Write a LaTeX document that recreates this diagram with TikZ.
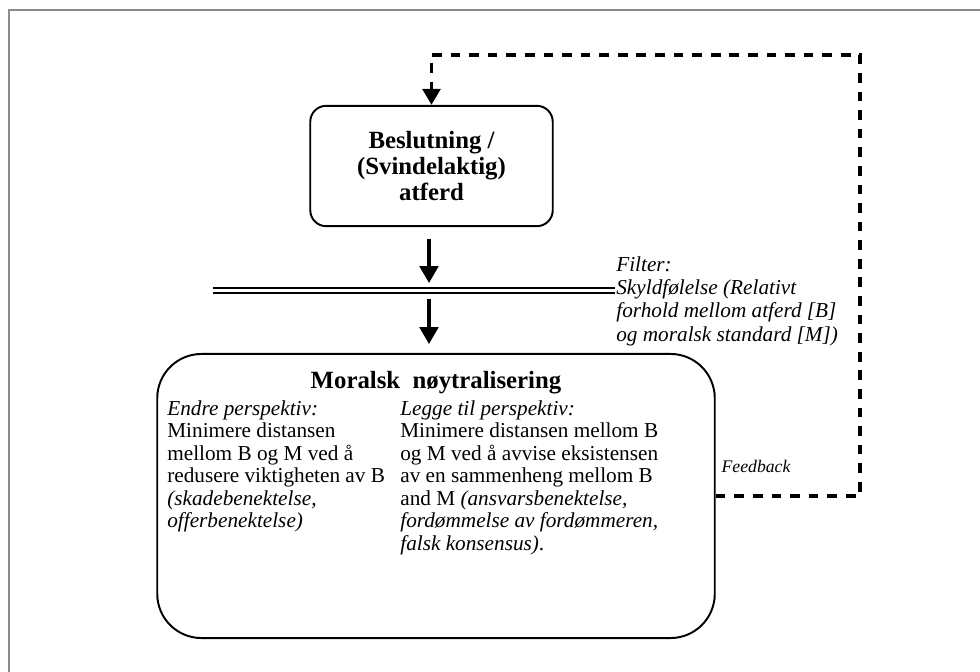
\documentclass[tikz,border=0pt]{standalone}
\usepackage{fontspec}
\setmainfont{Liberation Serif}
\usetikzlibrary{arrows.meta, positioning}

\tikzset{
  boks/.style={draw, line width=1.1pt, align=center},
  pil/.style={line width=1.8pt, -{Triangle[width=10.5pt, length=9.5pt]}},
  tilbake/.style={line width=2pt, dash pattern=on 5.5pt off 5pt, -{Triangle[width=10pt, length=9pt]}},
  tekst/.style={align=left, inner sep=0pt, font=\fontsize{12}{12.75}\selectfont},
}

\begin{document}
\begin{tikzpicture}[x=0.565pt, y=-0.565pt]
  % Ramme rundt figuren
  \useasboundingbox (0,0) rectangle (980,672);
  \draw[gray!90, line width=1.2pt] (980,10) -- (9,10) -- (9,672);

  % Beslutning / atferd
  \node[boks, rounded corners=9pt, minimum width=137pt, minimum height=68pt,
        font=\fontsize{14}{14.5}\selectfont\bfseries] (beslutning) at (431.5,166)
        {Beslutning /\\(Svindelaktig)\\atferd};

  % Filteret (dobbel linje) med forklaring
  \coordinate (filterv) at (213,290.5);
  \coordinate (filterh) at (615,290.5);
  \draw[double, double distance=2.2pt, line width=0.9pt] (filterv) -- (filterh);
  \node[tekst, anchor=north west, font=\fontsize{12}{13.2}\selectfont\itshape] (filter) at (616,256)
        {Filter:\\Skyldfølelse (Relativt\\forhold mellom atferd [B]\\og moralsk standard [M])};

  % Piler inn og ut av filteret
  \coordinate (pil1a) at (429,239);
  \coordinate (pil1b) at (429,283);
  \coordinate (pil2a) at (429,299);
  \coordinate (pil2b) at (429,344);
  \draw[pil] (pil1a) -- (pil1b);
  \draw[pil] (pil2a) -- (pil2b);

  % Moralsk noytralisering
  \node[boks, rounded corners=25pt, minimum width=315pt, minimum height=160.5pt] (moral) at (436,496) {};
  \node[font=\fontsize{14}{14.5}\selectfont\bfseries] (tittel) at (436,383) {Moralsk\ \ nøytralisering};
  \node[tekst, anchor=north west] (endre) at (167,400)
        {\textit{Endre perspektiv:}\\Minimere distansen\\mellom B og M ved å\\redusere viktigheten av B\\\textit{(skadebenektelse,}\\\textit{offerbenektelse)}};
  \node[tekst, anchor=north west] (legge) at (400,400)
        {\textit{Legge til perspektiv:}\\Minimere distansen mellom B\\og M ved å avvise eksistensen\\av en sammenheng mellom B\\and M \textit{(ansvarsbenektelse,}\\\textit{fordømmelse av fordømmeren,}\\\textit{falsk konsensus)}.};

  % Feedback tilbake til beslutning
  \coordinate (hjorne) at (860,55);
  \draw[tilbake] (moral.east) -| (hjorne) -| (beslutning.north);
  \node[font=\fontsize{10}{12}\selectfont\itshape] (feedback) at (756,466) {Feedback};
\end{tikzpicture}
\end{document}
